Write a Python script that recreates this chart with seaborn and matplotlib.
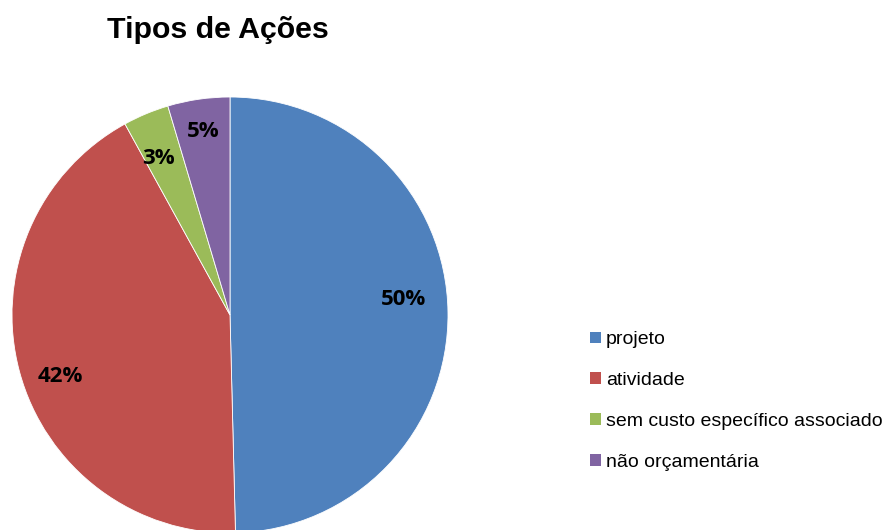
import matplotlib
matplotlib.use("Agg")
import matplotlib.pyplot as plt
import seaborn as sns
import numpy as np
from matplotlib.patches import Patch

categories = ["projeto", "atividade", "sem custo específico associado", "não orçamentária"]
values = [49.6, 42.4, 3.4, 4.6]
pct_labels = ["50%", "42%", "3%", "5%"]
colors = ["#4F81BD", "#C0504D", "#9BBB59", "#8064A2"]

# label placement (distance from centre in radii, angle in degrees)
label_dist = [0.80, 0.83, 0.79, 0.85]
label_ang = [5.0, 200.0, 114.6, 98.3]

sns.set_theme(style="white")
plt.rcParams["font.family"] = ["Liberation Sans", "DejaVu Sans"]

W, H = 885, 530
fig = plt.figure(figsize=(W / 100, H / 100), dpi=100)
cx, cy, r = 230, 315, 218
ax = fig.add_axes([(cx - r) / W, (H - cy - r) / H, 2 * r / W, 2 * r / H])
pal = sns.color_palette(colors)
wedges, _ = ax.pie(values, colors=pal, startangle=90, counterclock=False,
                   radius=1, wedgeprops=dict(edgecolor="white", linewidth=0.6))
for lab, d, a in zip(pct_labels, label_dist, label_ang):
    t = np.deg2rad(a)
    ax.text(d * np.cos(t), d * np.sin(t), lab, ha="center", va="center",
            fontsize=16, fontweight="bold", family=["Open Sans", "DejaVu Sans"], color="black")
ax.set_xlim(-1, 1)
ax.set_ylim(-1, 1)
ax.set_aspect("equal")
ax.axis("off")

fig.text(218 / W, 1 - 30 / H, "Tipos de Ações", ha="center", va="center",
         fontsize=21.8, fontweight="bold", color="black")

handles = [Patch(facecolor=c, edgecolor="none") for c in pal]
fig.legend(handles, categories, loc="center left", bbox_to_anchor=(590 / W, 1 - 401 / H),
           frameon=False, fontsize=14.0, handlelength=0.56, handleheight=0.56,
           handletextpad=0.27, labelspacing=1.22, labelcolor="black",
           borderpad=0, borderaxespad=0)

fig.savefig("out.png", dpi=100)
